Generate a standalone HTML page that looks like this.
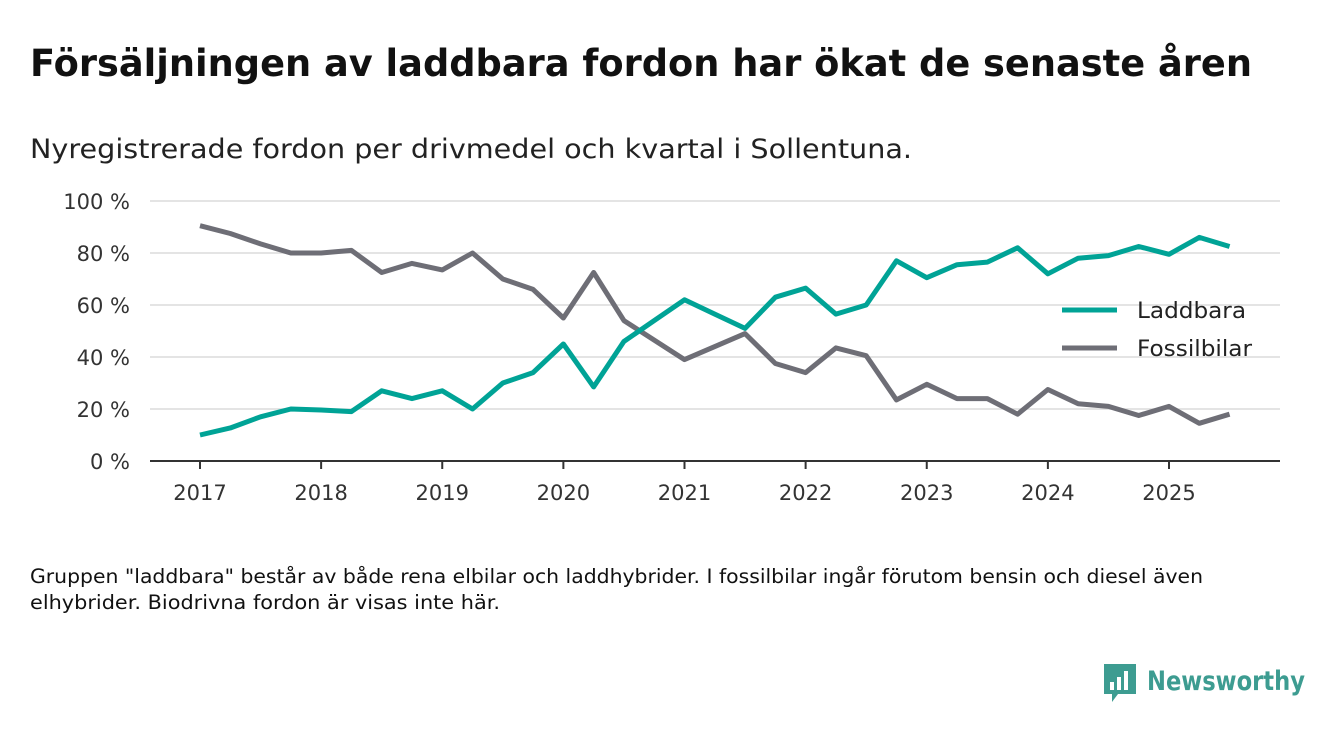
<!DOCTYPE html>
<html><head><meta charset="utf-8"><style>
body{margin:0;width:1340px;height:733px;background:#fff;font-family:"DejaVu Sans","Liberation Sans",sans-serif;color:#111;overflow:hidden}
</style></head><body>
<svg width="1340" height="733" viewBox="0 0 1340 733">
<text x="30" y="76" font-size="37" font-weight="bold" fill="#111" textLength="1222" lengthAdjust="spacingAndGlyphs">Försäljningen av laddbara fordon har ökat de senaste åren</text>
<text x="30" y="158" font-size="27" fill="#222" textLength="882" lengthAdjust="spacingAndGlyphs">Nyregistrerade fordon per drivmedel och kvartal i Sollentuna.</text>
<g id="grid"></g><g id="lines"></g>
<g>
<line x1="1062" y1="310" x2="1117" y2="310" stroke="#00a396" stroke-width="5"/>
<text x="1137" y="318" font-size="22" fill="#222" textLength="109" lengthAdjust="spacingAndGlyphs">Laddbara</text>
<line x1="1062" y1="348" x2="1117" y2="348" stroke="#6e6e76" stroke-width="5"/>
<text x="1137" y="356" font-size="22" fill="#222" textLength="115" lengthAdjust="spacingAndGlyphs">Fossilbilar</text>
</g>
<text x="30" y="583" font-size="19.5" fill="#111" textLength="1173" lengthAdjust="spacingAndGlyphs">Gruppen "laddbara" består av både rena elbilar och laddhybrider. I fossilbilar ingår förutom bensin och diesel även</text>
<text x="30" y="609" font-size="19.5" fill="#111" textLength="470" lengthAdjust="spacingAndGlyphs">elhybrider. Biodrivna fordon är visas inte här.</text>
<g>
<path d="M1104 664h32v30h-18l-6 8v-8h-8z" fill="#3d9c91"/>
<rect x="1110" y="682" width="4" height="8" fill="#fff"/><rect x="1117" y="677" width="4" height="13" fill="#fff"/><rect x="1124" y="671" width="4" height="19" fill="#fff"/>
<text x="1147" y="690" font-size="27" font-weight="600" fill="#3d9c91" textLength="158" lengthAdjust="spacingAndGlyphs">Newsworthy</text>
</g>
</svg>
<script>
const years=["2017","2018","2019","2020","2021","2022","2023","2024","2025"];
const yTicks=[0,20,40,60,80,100];
const laddbara=[10,12.7,17,20,19.6,19,27,24,27,20,30,34,45,28.5,46,54,62,56.5,51,63,66.5,56.5,60,77,70.5,75.5,76.5,82,72,78,79,82.5,79.5,86,82.5];
const fossil=[90.5,87.5,83.5,80,80,81,72.5,76,73.5,80,70,66,55,72.5,54,46.5,39,44,49,37.5,34,43.5,40.5,23.5,29.5,24,24,18,27.5,22,21,17.5,21,14.5,18];
const NS="http://www.w3.org/2000/svg";
const x=i=>200+i*(969/32);
const y=v=>461-v*2.6;
const grid=document.getElementById('grid'),lines=document.getElementById('lines');
function mk(t,a,p){const e=document.createElementNS(NS,t);for(const k in a)e.setAttribute(k,a[k]);p.appendChild(e);return e;}
yTicks.forEach(v=>{
 if(v>0){const g=mk('line',{x1:150,x2:1280,y1:y(v),y2:y(v),stroke:'#dcdcdc','stroke-width':1.5},grid);
 
 }
 const t=mk('text',{x:130,y:y(v)+8,'text-anchor':'end','font-size':21,fill:'#333'},grid);t.textContent=v+' %';
 
 
});
const ax=mk('line',{x1:150,x2:1280,y1:461,y2:461,stroke:'#333','stroke-width':2},grid);


years.forEach((yr,k)=>{const xx=x(k*4);
 const tk=mk('line',{x1:xx,x2:xx,y1:461,y2:469,stroke:'#333','stroke-width':2},grid);
 
 
 const t=mk('text',{x:xx,y:500,'text-anchor':'middle','font-size':21,fill:'#333'},grid);t.textContent=yr;
 
 
});
function line(d,c,n){const p=mk('polyline',{points:d.map((v,i)=>x(i)+','+y(v)).join(' '),fill:'none',stroke:c,'stroke-width':5,'stroke-linejoin':'round'},lines);
 
 }
line(fossil,'#6e6e76','fossilbilar-line');
line(laddbara,'#00a396','laddbara-line');
</script>
</body></html>
